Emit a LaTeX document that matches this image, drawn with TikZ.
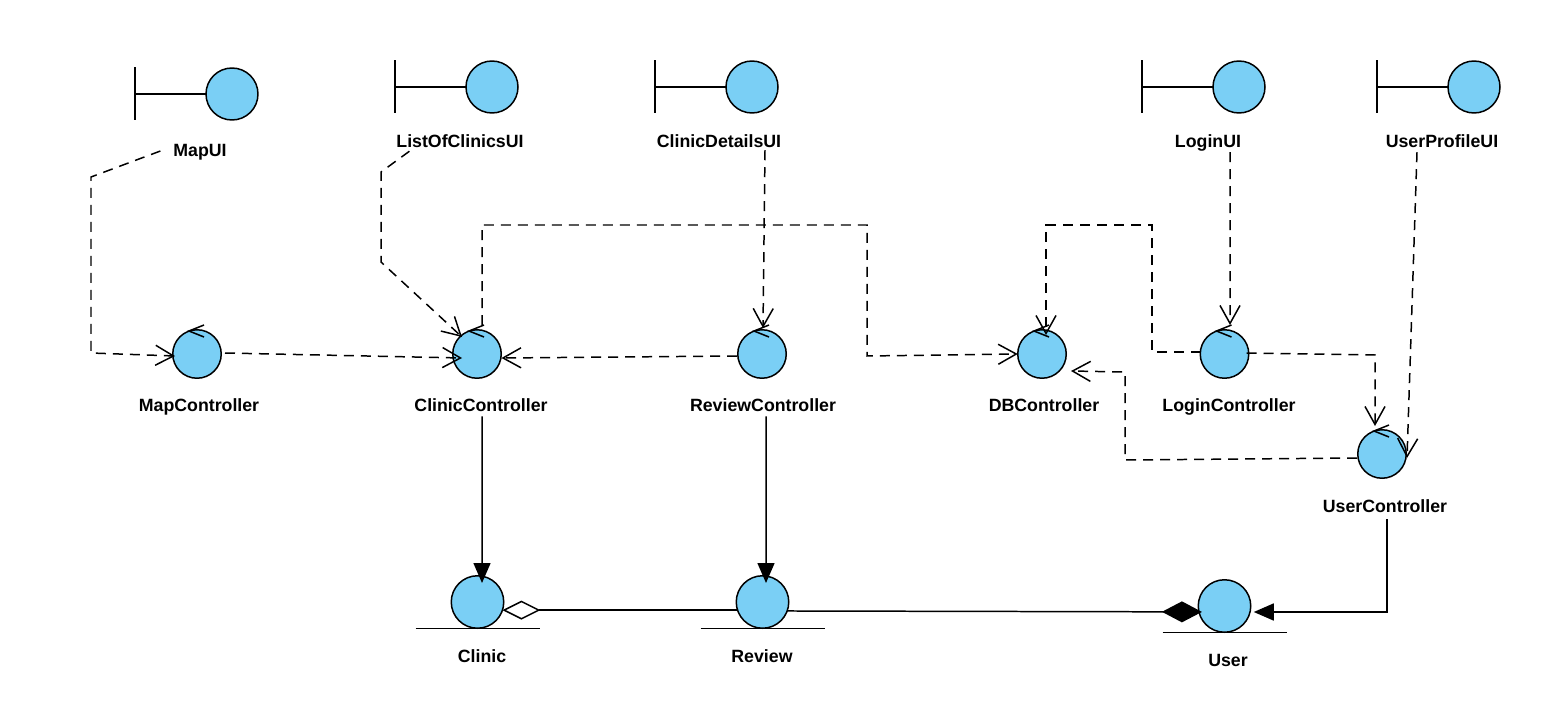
\documentclass[tikz,border=0pt]{standalone}
\usepackage{fontspec}
\setmainfont{Liberation Sans}
\usetikzlibrary{arrows.meta}
\definecolor{robustblue}{HTML}{7ACFF5}

\begin{document}
\begin{tikzpicture}[
  x=0.02cm, y=-0.02cm,
  every node/.style={inner sep=0pt, outer sep=0pt},
  line width=0.85pt,
  bnd/.style={circle, draw, fill=robustblue, minimum size=1.04cm},
  ctrl/.style={circle, draw, fill=robustblue, minimum size=0.97cm},
  ent/.style={circle, draw, fill=robustblue, minimum size=1.05cm},
  lbl/.style={font=\bfseries\fontsize{10.1pt}{12pt}\selectfont, text height=0.25cm, text depth=0pt},
  dep/.style={dash pattern=on 0.2cm off 0.14cm, -{Straight Barb[length=0.36cm, width=0.4cm]}},
  nav/.style={-{Triangle[length=0.4cm, width=0.34cm]}},
  aggr/.style={{Diamond[length=0.76cm, width=0.38cm, fill=white]}-},
  comp/.style={-{Diamond[length=0.8cm, width=0.42cm]}},
]
  \useasboundingbox (0,0) rectangle (1548,706);

  \node[bnd] (mapui) at (232,94) {};
  \node[lbl] (mapuilabel) at (200,150) {MapUI};
  \node[bnd] (listui) at (492,87) {};
  \node[lbl] (listuilabel) at (460,141) {ListOfClinicsUI};
  \node[bnd] (detailsui) at (752,87) {};
  \node[lbl] (detailsuilabel) at (719,141) {ClinicDetailsUI};
  \node[bnd] (loginui) at (1239,87) {};
  \node[lbl] (loginuilabel) at (1208,141) {LoginUI};
  \node[bnd] (profileui) at (1474,87) {};
  \node[lbl] (profileuilabel) at (1442,141) {UserProfileUI};

  \node[ctrl] (mapctrl) at (197,354) {};
  \node[lbl] (mapctrllabel) at (199,405) {MapController};
  \node[ctrl] (clinicctrl) at (477,354) {};
  \node[lbl] (clinicctrllabel) at (481,405) {ClinicController};
  \node[ctrl] (reviewctrl) at (762,354) {};
  \node[lbl] (reviewctrllabel) at (763,405) {ReviewController};
  \node[ctrl] (dbctrl) at (1042,354) {};
  \node[lbl] (dbctrllabel) at (1044,405) {DBController};
  \node[ctrl] (loginctrl) at (1224.5,354) {};
  \node[lbl] (loginctrllabel) at (1229,405) {LoginController};
  \node[ctrl] (userctrl) at (1382,454) {};
  \node[lbl] (userctrllabel) at (1385,506) {UserController};

  \node[ent] (clinic) at (477.5,602) {};
  \node[lbl] (cliniclabel) at (482,656) {Clinic};
  \node[ent] (review) at (762.5,602) {};
  \node[lbl] (reviewlabel) at (762,656) {Review};
  \node[ent] (user) at (1224.5,606) {};
  \node[lbl] (userlabel) at (1228,660) {User};

  \foreach \n in {mapui,listui,detailsui,loginui,profileui}
    \draw (\n.west) -- ++(-71,0) ++(0,-26.5) -- ++(0,53);
  \foreach \n in {mapctrl,clinicctrl,reviewctrl,dbctrl,loginctrl,userctrl}
    \draw (\n.center) ++(7,-29) -- ++(-15,6) -- ++(15,6);
  \foreach \n in {clinic,review,user}
    \draw (\n.south) ++(-62,0) -- ++(124,0);

  \draw[dep] ([shift={(-13,1)}]mapuilabel.west) -- (91,177) -- (91,353) -- ([shift={(-22,2)}]mapctrl.center);
  \draw[dep] ([shift={(13,4)}]listuilabel.south west) -- (381,172) -- (381,262) -- ([shift={(-15,-17)}]clinicctrl.center);
  \draw[dep] ([shift={(46,3)}]detailsuilabel.south) -- ([shift={(1,-26)}]reviewctrl.center);
  \draw[dep] ([shift={(22,5)}]loginuilabel.south) -- ([shift={(5.5,-29)}]loginctrl.center);
  \draw[dep] ([shift={(-25,5)}]profileuilabel.south) -- ([shift={(25,4)}]userctrl.center);

  \draw[dep] ([shift={(28,-1)}]mapctrl.center) -- ([shift={(-15,4)}]clinicctrl.center);
  \draw[dep] ([shift={(-25,2)}]reviewctrl.center) -- ([shift={(24.5,4)}]clinicctrl.center);
  \draw[dep] ([shift={(5,-29)}]clinicctrl.center) -- (482,225) -- (867,225) -- (867,356) -- (dbctrl.west);
  \draw[dep] ([shift={(-24,-2)}]loginctrl.center) -- (1152,352) -- (1152,225) -- (1046,225) -- ([shift={(4,-19)}]dbctrl.center);
  \draw[dep] ([shift={(22,-1)}]loginctrl.center) -- (1375,355) -- ([shift={(-7,-28)}]userctrl.center);
  \draw[dep] ([shift={(-25,4)}]userctrl.center) -- (1125,460) -- (1125,372) -- ([shift={(29,17)}]dbctrl.center);

  \draw[nav] ([shift={(1,5)}]clinicctrllabel.south) -- ([shift={(4.5,-19)}]clinic.center);
  \draw[nav] ([shift={(3,5)}]reviewctrllabel.south) -- ([shift={(3.5,-19)}]review.center);
  \draw[nav] ([shift={(2,7)}]userctrllabel.south) -- (1387,612) -- ([shift={(3,6)}]user.east);

  \draw[aggr] (clinic.-18) -- (review.198);
  \draw[comp] (review.-20) -- ([shift={(3,0)}]user.193);
\end{tikzpicture}
\end{document}
